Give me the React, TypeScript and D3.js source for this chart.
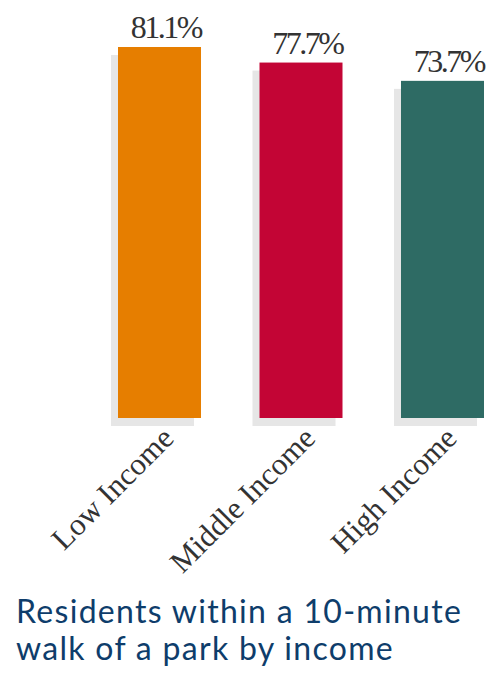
import React from "react";
import * as d3 from "d3";

const categories = ["Low Income", "Middle Income", "High Income"];
const values = [81.1, 77.7, 73.7];
const colors = ["#e67e00", "#c30535", "#2e6b64"];
const valueLabels = ["81.1%", "77.7%", "73.7%"];
const titleLines = ["Residents within a 10-minute", "walk of a park by income"];

const W = 487;
const H = 675;

export default function App() {
  const x = d3
    .scaleBand<string>()
    .domain(categories)
    .range([118, 484])
    .paddingInner(0.4134)
    .paddingOuter(0);
  const y = d3.scaleLinear().domain([0, 81.1]).range([418, 47]);
  const bw = x.bandwidth();
  return (
    <svg
      width={W}
      height={H}
      style={{ position: "absolute", left: 0, top: 0, background: "#fff" }}
    >
      {categories.map((c, i) => {
        const bx = x(c)!;
        const top = y(values[i]);
        const h = y(0) - top;
        return (
          <g key={c}>
            <rect x={bx - 7} y={top + 8} width={bw} height={h} fill="#e6e6e6" />
            <rect x={bx} y={top} width={bw} height={h} fill={colors[i]} />
            <text
              x={bx + bw}
              y={top - 9}
              textAnchor="end"
              fontFamily="'Liberation Serif', serif"
              fontSize={32}
              letterSpacing={-2.5}
              fill="#333"
            >
              {valueLabels[i]}
            </text>
            <text
              transform={`translate(${bx + bw / 2 + 16},${440}) rotate(-45)`}
              textAnchor="end"
              fontFamily="'Liberation Serif', serif"
              fontSize={31}
              fill="#333"
            >
              {c}
            </text>
          </g>
        );
      })}
      {titleLines.map((t, i) => (
        <text
          key={i}
          x={16}
          y={623 + i * 37}
          fontFamily="Lato, sans-serif"
          fontSize={32}
          fill="#0e3d6b"
          letterSpacing={1.3}
        >
          {t}
        </text>
      ))}
    </svg>
  );
}
